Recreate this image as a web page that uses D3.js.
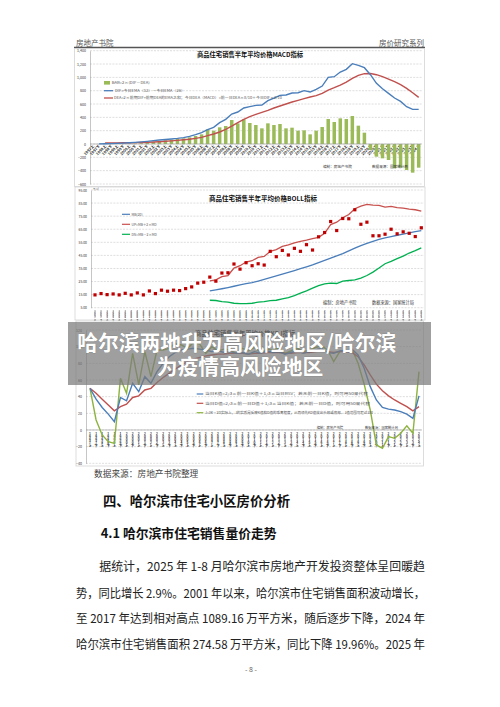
<!DOCTYPE html>
<html><head><meta charset="utf-8">
<script src="https://cdn.jsdelivr.net/npm/d3@7"></script>
<style>
html,body{margin:0;padding:0;background:#fff;}
svg{display:block;}
.vlab{writing-mode:vertical-rl;text-orientation:upright;}
</style></head><body>
<svg id="page" width="500" height="707"></svg>
<script>
const periods = ["1997上","1997下","1998上","1998下","1999上","1999下","2000上","2000下","2001上","2001下","2002上","2002下","2003上","2003下","2004上","2004下","2005上","2005下","2006上","2006下","2007上","2007下","2008上","2008下","2009上","2009下","2010上","2010下","2011上","2011下","2012上","2012下","2013上","2013下","2014上","2014下","2015上","2015下","2016上","2016下","2017上","2017下","2018上","2018下","2019上","2019下","2020上","2020下","2021上","2021下","2022上","2022下","2023上","2023下","2024上"];

// MACD chart
const macdBar = [0,1,2,2,3,4,5,7,12,20,30,45,55,65,75,85,100,120,145,220,200,250,270,360,310,370,315,285,235,310,285,300,235,245,200,205,145,200,255,375,330,385,375,420,275,170,-90,-190,-215,-240,-365,-355,-390,-430,-355];
const macdDif = [null,2,4,6,9,13,18,24,32,40,50,60,68,76,84,95,115,140,170,215,250,320,370,450,480,540,560,580,585,650,690,730,735,765,770,800,780,820,870,1000,1010,1080,1120,1205,1180,1145,1040,910,830,760,690,640,560,520,520];
const macdDea = [null,null,15,16,17,18,19,21,23,26,30,35,41,47,55,63,72,85,100,125,150,180,220,270,320,370,410,445,475,505,540,570,600,630,655,680,705,725,760,810,845,885,930,985,1030,1055,1058,1040,1010,975,935,890,835,770,700];
const macdTicks = [-600,-400,-200,0,200,400,600,800,1000,1200,1400];

// BOLL chart
const bollPrice = [1480,1580,1500,1550,1480,1600,1480,1630,1480,1780,1580,1840,1760,1840,1810,1960,2090,2380,2450,2840,2530,3150,3170,3840,3450,3940,3710,3860,3760,4810,4400,4880,4530,5040,4810,5320,4910,5920,6250,7090,6400,7320,7300,7990,6880,7040,6000,6000,6120,6500,6150,6300,6190,5940,6610];
const bollStart = 19;
const bollMB = [1780,1860,1950,2040,2140,2250,2340,2420,2540,2670,2800,2930,3070,3200,3340,3480,3630,3780,3950,4120,4290,4460,4630,4840,5050,5250,5420,5580,5720,5840,5940,6040,6130,6220,6310,6400];
const bollUP = [2550,2630,2880,2960,3530,3710,3990,4090,4350,4420,4810,4940,5190,5300,5450,5580,5660,5780,5880,6190,6860,7040,7380,7630,8070,8270,8400,8350,8320,8190,8250,8150,8120,8040,7990,7880];
const bollDN = [1070,1050,960,920,840,810,810,840,920,960,1040,1070,1170,1270,1420,1610,1780,1990,2190,2320,2380,2350,2530,2580,2630,2760,2960,3220,3530,3860,4040,4250,4450,4680,4860,5070];
const bollTicks = [500,1500,2500,3500,4500,5500,6500,7500,8500,9500];

// KDJ chart
const kdjK = [50,37,27,19,10,39,35,56,46,64,56,70,80,88,93,96,97,98,97,96,94,95,93,94,92,93,91,94,92,95,93,94,91,93,95,92,94,96,98,93,92,95,96,97,90,74,52,36,27,25,24,22,19,14,41];
const kdjD = [50,44,37,30,23,28,31,39,41,48,50,57,63,68,73,78,82,85,87,89,90,91,91,92,92,92,91,92,92,93,93,93,92,92,93,93,93,94,95,94,93,94,94,93,88,78,66,55,47,41,36,32,28,23,28];
const kdjJ = [50,12,-6,-14,-16,62,44,92,54,94,64,96,96,98,104,102,98,105,103,92,100,95,97,96,92,98,95,99,93,97,96,98,92,95,98,94,96,99,101,96,82,94,96,97,80,55,24,-18,-22,-8,-10,-4,5,-4,70];
const kdjTicks = [-40,-20,0,20,40,60,80,100,120];

const FONT = '"Noto Sans CJK SC","Noto Sans",sans-serif';
const svg = d3.select('#page').attr('font-family', FONT);

const C_BLUE = '#4a7ebb', C_RED = '#c0504d', C_GREEN = '#9bbb59', C_GRID = '#bcbcbc';

function txt(x, y, s, o = {}) {
  const t = svg.append('text').attr('x', x).attr('y', y).text(s)
    .attr('font-size', o.fs || 4).attr('fill', o.fill || '#333')
    .attr('text-anchor', o.anchor || 'start');
  if (o.bold) t.attr('font-weight', 'bold');
  if (o.len) t.attr('textLength', o.len).attr('lengthAdjust', 'spacingAndGlyphs');
  return t;
}
function grid(scale, ticks, x0, x1) {
  svg.append('g').selectAll('line').data(ticks).join('line')
    .attr('x1', x0).attr('x2', x1).attr('y1', d => scale(d)).attr('y2', d => scale(d))
    .attr('stroke', C_GRID).attr('stroke-width', 0.5).attr('stroke-dasharray', '2,1.2');
}
function yAxis(scale, ticks, fmt, x, fs) {
  const g = svg.append('g').attr('transform', `translate(${x},0)`)
    .call(d3.axisLeft(scale).tickValues(ticks).tickFormat(fmt).tickSize(0).tickPadding(4));
  g.select('.domain').attr('stroke', '#a0a0a0').attr('stroke-width', 0.6);
  g.selectAll('text').attr('font-size', fs).attr('fill', '#333').attr('font-family', FONT);
}
function vertLabels(scale, y0, fs) {
  svg.append('g').selectAll('text').data(periods).join('text')
    .attr('class', 'vlab').attr('x', d => scale(d)).attr('y', y0)
    .attr('font-size', fs).attr('fill', '#111').attr('font-weight', 'bold')
    .text(d => d);
}
function frame(x, y, w, h) {
  svg.append('rect').attr('x', x).attr('y', y).attr('width', w).attr('height', h)
    .attr('fill', 'none').attr('stroke', '#d4d4d4').attr('stroke-width', 0.8);
}

// ---------- header ----------
txt(76, 45.5, '房地产书院', { fs: 7.5, fill: '#555' });
txt(424, 45.5, '房价研究系列', { fs: 7.5, fill: '#555', anchor: 'end' });
svg.append('line').attr('x1', 74).attr('x2', 425).attr('y1', 47.5).attr('y2', 47.5).attr('stroke', '#555').attr('stroke-width', 1.3);

// ---------- chart 1: MACD ----------
frame(74.5, 48.5, 350, 138);
const x1 = d3.scaleBand().domain(periods).range([90, 421.7]).paddingInner(0.42).paddingOuter(0.21);
const y1 = d3.scaleLinear().domain([-600, 1400]).range([184, 50.7]);
grid(y1, macdTicks, 90, 421.7);
yAxis(y1, macdTicks, d3.format(','), 90, 3.6);
const g1l = svg.append('g').attr('font-size', 3.8).attr('fill', '#222').attr('font-weight', 'bold').attr('text-anchor', 'end');
periods.forEach(p => {
  const cx = x1(p) + x1.bandwidth() / 2 + 1.5;
  g1l.append('text').attr('transform', `translate(${cx},146.5) rotate(-45)`).text(p);
});
svg.append('g').selectAll('rect').data(macdBar).join('rect')
  .attr('x', (d, i) => x1(periods[i])).attr('width', x1.bandwidth())
  .attr('y', d => y1(Math.max(0, d))).attr('height', d => Math.abs(y1(d) - y1(0)))
  .attr('fill', C_GREEN);
svg.append('line').attr('x1', 90).attr('x2', 421.7).attr('y1', y1(0)).attr('y2', y1(0)).attr('stroke', '#999').attr('stroke-width', 0.6);
const l1 = arr => d3.line().defined(d => d != null).x((d, i) => x1(periods[i]) + x1.bandwidth() / 2).y(d => y1(d))(arr);
svg.append('path').attr('d', l1(macdDea)).attr('fill', 'none').attr('stroke', C_RED).attr('stroke-width', 1.4);
svg.append('path').attr('d', l1(macdDif)).attr('fill', 'none').attr('stroke', C_BLUE).attr('stroke-width', 1.4);
txt(250, 57, '商品住宅销售半年平均价格MACD指标', { fs: 6.3, bold: true, fill: '#111', anchor: 'middle' });
svg.append('rect').attr('x', 104).attr('y', 81).attr('width', 6).attr('height', 3.6).attr('fill', C_GREEN);
txt(111.7, 84.2, 'BAR=2×(DIF－DEA)', { fs: 3.4, fill: '#555', len: 38 });
svg.append('line').attr('x1', 104).attr('x2', 113).attr('y1', 90.7).attr('y2', 90.7).attr('stroke', C_BLUE).attr('stroke-width', 1.3);
txt(115, 92, 'DIF=今日EMA（12）－今日EMA（26）', { fs: 3.4, fill: '#555', len: 70 });
svg.append('line').attr('x1', 104).attr('x2', 113).attr('y1', 98).attr('y2', 98).attr('stroke', C_RED).attr('stroke-width', 1.3);
txt(114, 99.3, 'DEA=2×前期DIF+前期DEA的EMA之和；今日DEA（MACD）=前一日DEA×8/10＋今日DIF×2/10', { fs: 3.4, fill: '#555', len: 168 });
txt(323, 167.5, '编制：房地产书院', { fs: 3.6, fill: '#333' });
txt(372, 167.5, '数据来源：国家统计局', { fs: 3.6, fill: '#333' });

// ---------- chart 2: BOLL ----------
frame(75, 187, 350, 133);
txt(93, 189.6, '元/㎡', { fs: 2.4, fill: '#555' });
const x2 = d3.scalePoint().domain(periods).range([95, 421.3]);
const y2 = d3.scaleLinear().domain([500, 9500]).range([307.7, 190]);
grid(y2, bollTicks, 91, 424);
yAxis(y2, bollTicks, d => (d / 100).toFixed(2), 91, 3.4);
vertLabels(x2, 309.5, 2.3);
const seg = periods.slice(bollStart);
const l2 = arr => d3.line().x((d, i) => x2(seg[i])).y(d => y2(d))(arr);
svg.append('path').attr('d', l2(bollDN)).attr('fill', 'none').attr('stroke', '#00b050').attr('stroke-width', 1.3);
svg.append('path').attr('d', l2(bollMB)).attr('fill', 'none').attr('stroke', C_BLUE).attr('stroke-width', 1.3);
svg.append('path').attr('d', l2(bollUP)).attr('fill', 'none').attr('stroke', '#c8504d').attr('stroke-width', 1.3);
svg.append('g').selectAll('rect').data(bollPrice).join('rect')
  .attr('x', (d, i) => x2(periods[i]) - 1.6).attr('y', d => y2(d) - 1.6)
  .attr('width', 3.2).attr('height', 3.2).attr('fill', '#c00000');
txt(263, 201, '商品住宅销售半年平均价格BOLL指标', { fs: 6.5, bold: true, fill: '#111', anchor: 'middle' });
svg.append('line').attr('x1', 122).attr('x2', 130).attr('y1', 214.3).attr('y2', 214.3).attr('stroke', C_BLUE).attr('stroke-width', 1.2);
txt(131.5, 215.6, 'MB(20)', { fs: 3.4, fill: '#555' });
svg.append('line').attr('x1', 122).attr('x2', 130).attr('y1', 224.3).attr('y2', 224.3).attr('stroke', '#c8504d').attr('stroke-width', 1.2);
txt(131.5, 225.6, 'UP=MB＋2×MD', { fs: 3.4, fill: '#555' });
svg.append('line').attr('x1', 122).attr('x2', 130).attr('y1', 234.3).attr('y2', 234.3).attr('stroke', '#00b050').attr('stroke-width', 1.2);
txt(131.5, 235.6, 'DN=MB－2×MD', { fs: 3.4, fill: '#555' });
txt(323, 303.5, '编制：房地产书院', { fs: 4.2, fill: '#333' });
txt(372, 303.5, '数据来源：国家统计局', { fs: 4.2, fill: '#333' });

// ---------- chart 3: KDJ ----------
frame(76, 321, 347.5, 145);
const x3 = d3.scalePoint().domain(periods).range([90, 419]);
const y3 = d3.scaleLinear().domain([-40, 120]).range([463.3, 330]);
grid(y3, kdjTicks, 86, 422);
yAxis(y3, kdjTicks, d3.format('d'), 86, 3.6);
svg.append('line').attr('x1', 86).attr('x2', 422).attr('y1', y3(0)).attr('y2', y3(0)).attr('stroke', '#999').attr('stroke-width', 0.6);
vertLabels(x3, 432, 3.1);
txt(245, 336, '商品住宅销售半年平均价格KDJ指标', { fs: 6.3, bold: true, fill: '#111', anchor: 'middle' });
const l3 = arr => d3.line().x((d, i) => x3(periods[i])).y(d => y3(d))(arr);
svg.append('path').attr('d', l3(kdjJ)).attr('fill', 'none').attr('stroke', '#8db33e').attr('stroke-width', 1.4);
svg.append('path').attr('d', l3(kdjD)).attr('fill', 'none').attr('stroke', C_RED).attr('stroke-width', 1.4);
svg.append('path').attr('d', l3(kdjK)).attr('fill', 'none').attr('stroke', C_BLUE).attr('stroke-width', 1.4);
svg.append('line').attr('x1', 196.7).attr('x2', 203.3).attr('y1', 394).attr('y2', 394).attr('stroke', C_BLUE).attr('stroke-width', 1.2);
txt(205, 395.2, '当日K值=2/3×前一日K值＋1/3×当日RSV；若无前一日K值，则可用50来代替', { fs: 3.2, fill: '#555', len: 163 });
svg.append('line').attr('x1', 196.7).attr('x2', 203.3).attr('y1', 403.3).attr('y2', 403.3).attr('stroke', C_RED).attr('stroke-width', 1.2);
txt(205, 404.5, '当日D值=2/3×前一日D值＋1/3×当日K值；若无前一日D值，则可用50来代替', { fs: 3.2, fill: '#555', len: 165 });
svg.append('line').attr('x1', 196.7).attr('x2', 203.3).attr('y1', 412.7).attr('y2', 412.7).attr('stroke', '#8db33e').attr('stroke-width', 1.2);
txt(205, 413.9, 'J=3K－2D实际上，J的实质是反映K值和D值的乖离程度，从而领先KD值找出头部或底部。J值范围可超过100', { fs: 3.2, fill: '#555', len: 168 });
txt(316.7, 428.6, '编制：房地产书院', { fs: 3.3, fill: '#333' });
txt(365, 428.6, '数据来源：国家统计局', { fs: 3.3, fill: '#333' });

// ---------- page text ----------
txt(94, 477, '数据来源：房地产书院整理', { fs: 8.7, fill: '#444' });
txt(103, 505.5, '四、哈尔滨市住宅小区房价分析', { fs: 13.4, bold: true, fill: '#111', len: 187 });
txt(100.7, 538, '4.1 哈尔滨市住宅销售量价走势', { fs: 12.8, bold: true, fill: '#111', len: 176 });
txt(99.3, 571, '据统计，2025 年 1-8 月哈尔滨市房地产开发投资整体呈回暖趋', { fs: 12, fill: '#222', len: 325.7 });
txt(76, 597.5, '势，同比增长 2.9%。2001 年以来，哈尔滨市住宅销售面积波动增长，', { fs: 12, fill: '#222', len: 349 });
txt(76, 623.3, '至 2017 年达到相对高点 1089.16 万平方米，随后逐步下降，2024 年', { fs: 12, fill: '#222', len: 349 });
txt(76, 649, '哈尔滨市住宅销售面积 274.58 万平方米，同比下降 19.96%。2025 年', { fs: 12, fill: '#222', len: 349 });
txt(251, 671.5, '- 8 -', { fs: 7, fill: '#666', anchor: 'middle' });

// ---------- overlay banner ----------
svg.append('rect').attr('x', 68).attr('y', 322).attr('width', 363).attr('height', 63).attr('fill', '#7a7a7a').attr('opacity', 0.72);
txt(77.3, 349.5, '哈尔滨两地升为高风险地区/哈尔滨', { fs: 21, bold: true, fill: '#fff', len: 319 })
  .attr('stroke', 'rgba(0,0,0,0.25)').attr('stroke-width', 0.6).attr('paint-order', 'stroke');
txt(156.7, 373.5, '为疫情高风险地区', { fs: 21, bold: true, fill: '#fff', len: 166.6 })
  .attr('stroke', 'rgba(0,0,0,0.25)').attr('stroke-width', 0.6).attr('paint-order', 'stroke');
</script>
</body></html>
